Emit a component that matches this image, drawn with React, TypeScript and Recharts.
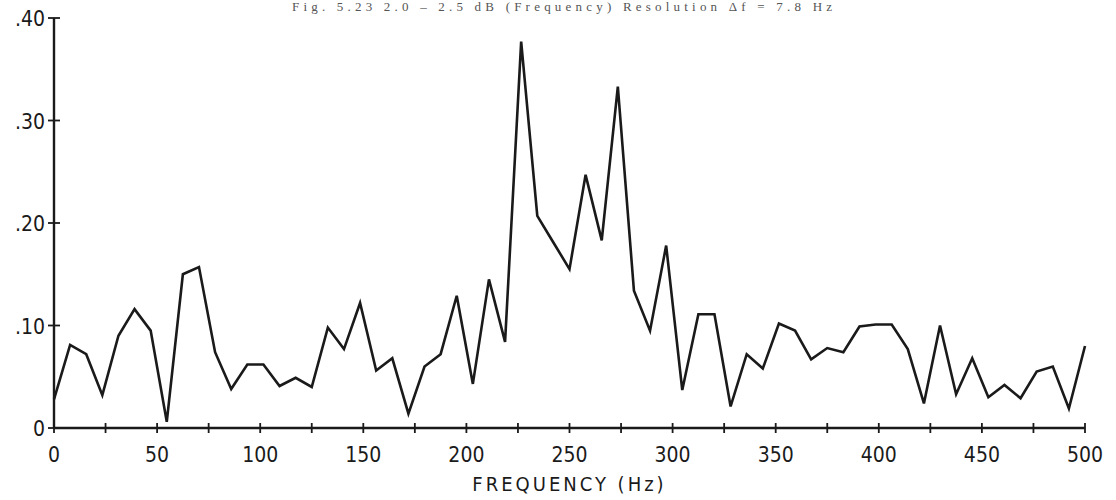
import React from 'react';
import { LineChart, Line, XAxis, YAxis, Label } from 'recharts';

// Frequency bins (Hz), resolution 7.8 Hz
const frequencies = [
  0, 7.81, 15.63, 23.44, 31.25, 39.06, 46.88, 54.69, 62.5, 70.31,
  78.13, 85.94, 93.75, 101.56, 109.38, 117.19, 125, 132.81, 140.63, 148.44,
  156.25, 164.06, 171.88, 179.69, 187.5, 195.31, 203.13, 210.94, 218.75, 226.56,
  234.38, 242.19, 250, 257.81, 265.63, 273.44, 281.25, 289.06, 296.88, 304.69,
  312.5, 320.31, 328.13, 335.94, 343.75, 351.56, 359.38, 367.19, 375, 382.81,
  390.63, 398.44, 406.25, 414.06, 421.88, 429.69, 437.5, 445.31, 453.13, 460.94,
  468.75, 476.56, 484.38, 492.19, 500,
];

const amplitudes = [
  0.028, 0.081, 0.072, 0.032, 0.090, 0.116, 0.095, 0.006, 0.150, 0.157,
  0.074, 0.038, 0.062, 0.062, 0.041, 0.049, 0.040, 0.098, 0.077, 0.122,
  0.056, 0.068, 0.014, 0.060, 0.072, 0.129, 0.043, 0.145, 0.084, 0.377,
  0.207, 0.181, 0.155, 0.247, 0.183, 0.333, 0.134, 0.095, 0.178, 0.037,
  0.111, 0.111, 0.021, 0.072, 0.058, 0.102, 0.095, 0.067, 0.078, 0.074,
  0.099, 0.101, 0.101, 0.077, 0.024, 0.100, 0.033, 0.068, 0.030, 0.042,
  0.029, 0.055, 0.060, 0.019, 0.080,
];

const xTicks = [0, 25, 50, 75, 100, 125, 150, 175, 200, 225, 250, 275, 300, 325, 350, 375, 400, 425, 450, 475, 500];
const yTicks = [0, 0.1, 0.2, 0.3, 0.4];
const yTickLabels = ['0', '.10', '.20', '.30', '.40'];

const titleText = 'Fig. 5.23  2.0 – 2.5 dB  (Frequency)  Resolution  Δf = 7.8 Hz';
const xLabel = 'FREQUENCY (Hz)';

const data = frequencies.map((f, i) => ({ f, v: amplitudes[i] }));

const FONT = '"DejaVu Sans Condensed", "DejaVu Sans", sans-serif';
const INK = '#1a1a1a';

const XTick = (props: any) => {
  const { x, y, payload } = props;
  const v = payload.value;
  const showLabel = v % 50 === 0;
  return (
    <g>
      <line x1={x} y1={y - 5} x2={x} y2={y + 5} stroke={INK} strokeWidth={1.8} />
      {showLabel && (
        <text x={x} y={y + 34} textAnchor="middle" fontFamily={FONT} fontSize={21} fill={INK}>
          {String(v)}
        </text>
      )}
    </g>
  );
};

const YTick = (props: any) => {
  const { x, y, payload } = props;
  const idx = yTicks.indexOf(payload.value);
  const label = idx >= 0 ? yTickLabels[idx] : '';
  return (
    <g>
      <line x1={x - 6} y1={y} x2={x + 6} y2={y} stroke={INK} strokeWidth={1.8} />
      <text x={x - 9} y={y + 8} textAnchor="end" fontFamily={FONT} fontSize={21} fill={INK}>
        {label}
      </text>
    </g>
  );
};

export default function App() {
  return (
    <div style={{ position: 'absolute', left: 0, top: 0, width: 1116, height: 500, background: '#fff' }}>
      <LineChart
        width={1116}
        height={500}
        data={data}
        margin={{ top: 18, right: 31, bottom: 0, left: 0 }}
      >
        <XAxis
          dataKey="f"
          type="number"
          domain={[0, 500]}
          ticks={xTicks}
          interval={0}
          height={72}
          tickSize={0}
          tickMargin={0}
          tickLine={false}
          axisLine={{ stroke: INK, strokeWidth: 2.4 }}
          tick={<XTick />}
        >
          <Label
            value={xLabel}
            position="insideBottom"
            offset={9}
            style={{ fontFamily: FONT, fontSize: 20, fill: INK, letterSpacing: 3 }}
          />
        </XAxis>
        <YAxis
          type="number"
          domain={[0, 0.4]}
          ticks={yTicks}
          interval={0}
          width={54}
          tickSize={0}
          tickMargin={0}
          tickLine={false}
          axisLine={{ stroke: INK, strokeWidth: 2.4 }}
          tick={<YTick />}
        />
        <Line
          type="linear"
          dataKey="v"
          stroke={INK}
          strokeWidth={2.6}
          dot={false}
          isAnimationActive={false}
        />
      </LineChart>
      <svg width={1116} height={16} style={{ position: 'absolute', left: 0, top: 0 }}>
        <text
          x={292}
          y={11}
          textLength={540}
          lengthAdjust="spacing"
          fontFamily='"Liberation Serif", serif'
          fontSize={13}
          fill="#555"
        >
          {titleText}
        </text>
      </svg>
    </div>
  );
}
